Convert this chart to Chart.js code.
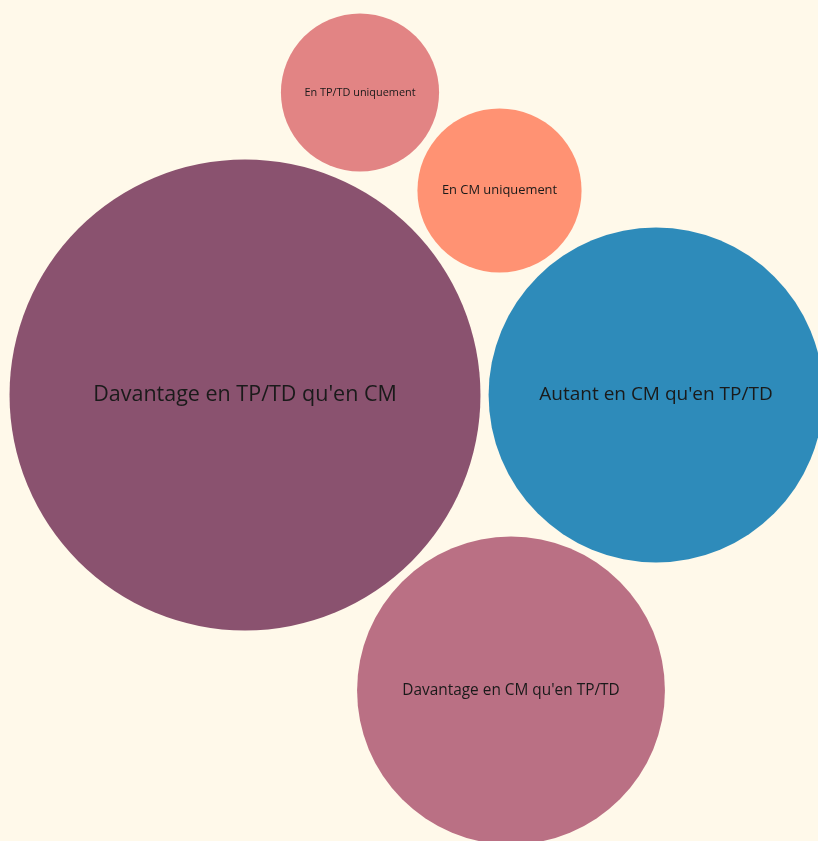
<!DOCTYPE html>
<html>
<head>
<meta charset="utf-8">
<script src="https://cdn.jsdelivr.net/npm/chart.js@4/dist/chart.umd.min.js"></script>
<style>
  html, body { margin: 0; padding: 0; background: #fff9ea; }
  #wrap { width: 818px; height: 841px; }
</style>
</head>
<body>
<div id="wrap"><canvas id="bulles"></canvas></div>
<script>
// catégories et valeurs (part des réponses, estimées à partir de l'aire des bulles)
const categories = [
  "Davantage en TP/TD qu'en CM",
  "Autant en CM qu'en TP/TD",
  "Davantage en CM qu'en TP/TD",
  "En CM uniquement",
  "En TP/TD uniquement"
];
const valeurs = [46.1, 23.3, 19.7, 5.6, 5.2];
// position des centres (disposition en bulles empilées)
const posX = [245, 656, 511, 499.5, 360];
const posY = [395, 395, 690.5, 190.5, 92.5];

const couleurs = ['#8a526f', '#2e8bba', '#ba7084', '#ff9273', '#e28484'];
const taillesTexte = [21.5, 19, 15.4, 12.9, 10.9];
const echelleRayon = 34.68; // px par racine de valeur

const etiquettes = {
  id: 'etiquettes',
  afterDatasetsDraw(chart) {
    const ctx = chart.ctx;
    const meta = chart.getDatasetMeta(0);
    ctx.save();
    ctx.fillStyle = '#1a1a1a';
    ctx.textAlign = 'center';
    ctx.textBaseline = 'middle';
    meta.data.forEach((pt, i) => {
      ctx.font = taillesTexte[i] + 'px "Open Sans"';
      ctx.fillText(categories[i], pt.x, pt.y);
    });
    ctx.restore();
  }
};

const ctx = document.getElementById('bulles').getContext('2d');
const myChart = new Chart(ctx, {
  type: 'bubble',
  data: {
    labels: categories,
    datasets: [{
      data: valeurs.map((v, i) => ({ x: posX[i], y: posY[i], v: v })),
      radius: (c) => echelleRayon * Math.sqrt(valeurs[c.dataIndex]),
      hoverRadius: 0,
      backgroundColor: couleurs,
      borderWidth: 0,
      clip: false
    }]
  },
  options: {
    responsive: true,
    maintainAspectRatio: false,
    animation: false,
    layout: { padding: 0, autoPadding: false },
    plugins: { legend: { display: false }, tooltip: { enabled: false } },
    scales: {
      x: { type: 'linear', display: false, min: 0, max: 818 },
      y: { type: 'linear', display: false, min: 0, max: 841, reverse: true }
    }
  },
  plugins: [etiquettes]
});
</script>
</body>
</html>
